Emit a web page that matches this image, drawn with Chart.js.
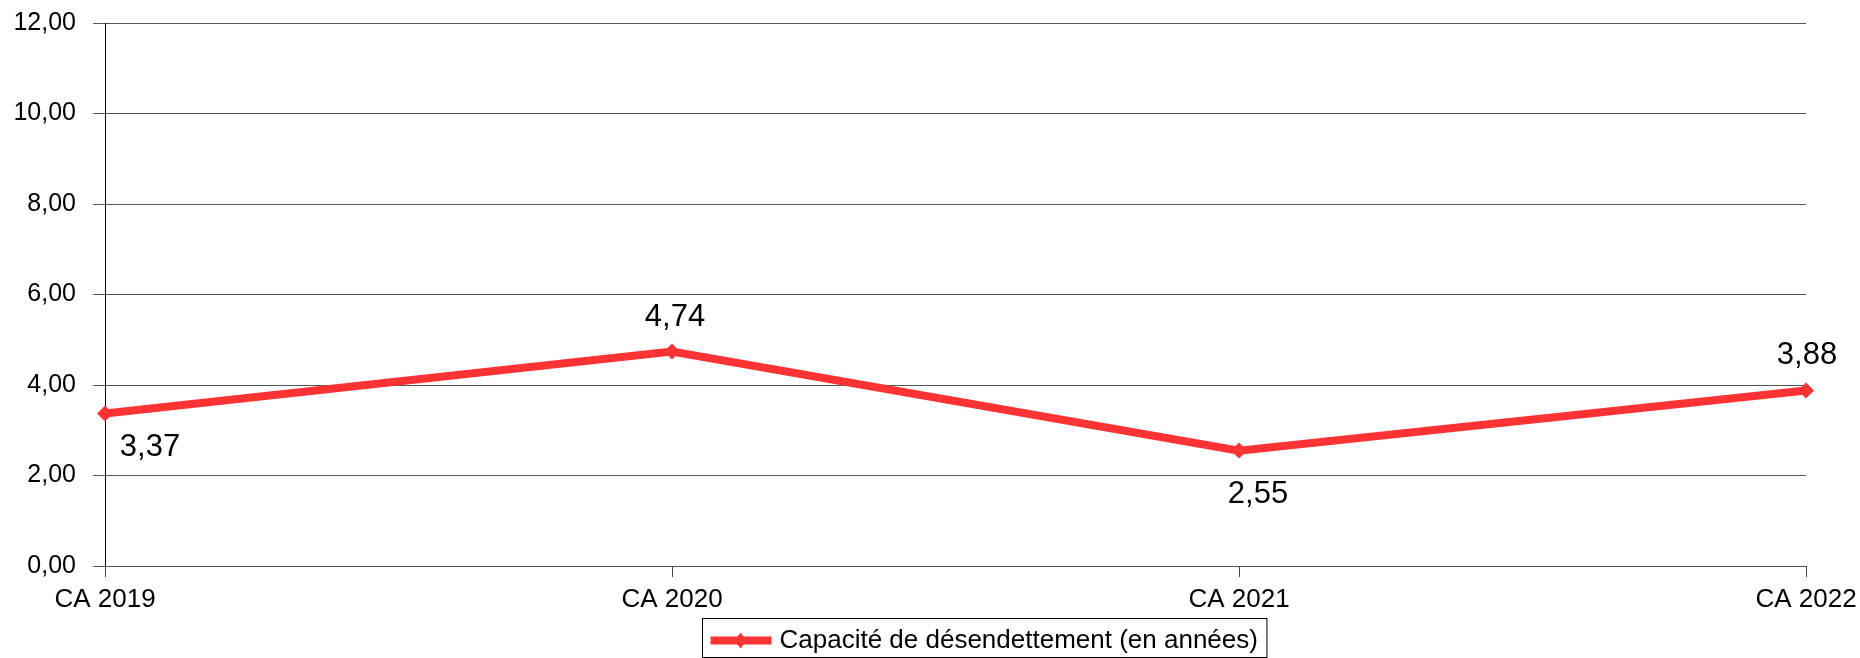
<!DOCTYPE html>
<html>
<head>
<meta charset="utf-8">
<script src="https://cdn.jsdelivr.net/npm/chart.js@4.4.0/dist/chart.umd.min.js"></script>
<style>
  html, body { margin: 0; padding: 0; background: #fff; }
  #wrap { width: 1860px; height: 658px; }
</style>
</head>
<body>
<div id="wrap"><canvas id="myChart" width="1860" height="658"></canvas></div>
<script>
// data
const categories = ['CA 2019', 'CA 2020', 'CA 2021', 'CA 2022'];
const capacite = [3.37, 4.74, 2.55, 3.88];
const seriesLabel = 'Capacité de désendettement (en années)';
const yMin = 0;
const yMax = 12;
const yStep = 2;

const red = '#ff3333';
const font = '"Liberation Sans", Arial, sans-serif';

function fr(v){
	return v.toFixed(2).replace('.', ',');
}

// value labels next to each point
const valueLabels = {
	id: 'valueLabels',
	afterDatasetsDraw(chart, args, opts){
		const ctx = chart.ctx;
		const meta = chart.getDatasetMeta(0);
		ctx.save();
		ctx.font = '31px ' + font;
		ctx.fillStyle = '#000';
		ctx.textAlign = 'center';
		ctx.textBaseline = 'middle';
		meta.data.forEach(function(pt, i){
			const off = opts.offsets[i];
			ctx.fillText(fr(capacite[i]), pt.x + off[0], pt.y + off[1]);
		});
		ctx.restore();
	}
};

// boxed legend under the axis
const boxLegend = {
	id: 'boxLegend',
	afterDraw(chart){
		const ctx = chart.ctx;
		ctx.save();
		ctx.font = '26px ' + font;
		const tw = ctx.measureText(seriesLabel).width;
		const w = 8 + 61 + 8 + tw + 9;
		const h = 39;
		const left = 702.5;
		const top = 618.5;
		ctx.strokeStyle = '#000';
		ctx.lineWidth = 1;
		ctx.strokeRect(left, top, w, h);
		const cy = top + 22;
		ctx.strokeStyle = red;
		ctx.lineWidth = 8;
		ctx.beginPath();
		ctx.moveTo(left + 8, cy);
		ctx.lineTo(left + 69, cy);
		ctx.stroke();
		ctx.fillStyle = red;
		const cx = left + 38;
		ctx.beginPath();
		ctx.moveTo(cx, cy - 8);
		ctx.lineTo(cx + 6, cy);
		ctx.lineTo(cx, cy + 8);
		ctx.lineTo(cx - 6, cy);
		ctx.closePath();
		ctx.fill();
		ctx.fillStyle = '#000';
		ctx.textBaseline = 'middle';
		ctx.fillText(seriesLabel, left + 77, cy);
		ctx.restore();
	}
};

const ctx = document.getElementById('myChart').getContext('2d');
const myChart = new Chart(ctx, {
	type: 'line',
	data: {
		labels: categories,
		datasets: [{
			label: seriesLabel,
			data: capacite,
			borderColor: red,
			backgroundColor: red,
			borderWidth: 8,
			tension: 0,
			pointStyle: 'rectRot',
			pointRadius: 8,
			pointBorderWidth: 0,
			pointBackgroundColor: red,
			fill: false
		}]
	},
	options: {
		responsive: false,
		animation: false,
		layout: {
			padding: { left: 0, right: 54, top: 23, bottom: 42 }
		},
		plugins: {
			legend: { display: false },
			tooltip: { enabled: false },
			valueLabels: {
				offsets: [[45, 34], [3, -34], [19, 44], [1, -35]]
			}
		},
		scales: {
			x: {
				offset: false,
				grid: {
					drawOnChartArea: false,
					drawTicks: true,
					tickLength: 11,
					color: '#444',
					lineWidth: 1
				},
				border: { display: false },
				ticks: {
					color: '#000',
					font: { family: font, size: 26 },
					padding: 7,
					maxRotation: 0,
					autoSkip: false
				},
				afterFit(scale){
					scale.height = 50;
					scale.paddingLeft = 0;
					scale.paddingRight = 0;
				}
			},
			y: {
				min: yMin,
				max: yMax,
				grid: {
					color: '#555',
					lineWidth: 1,
					drawTicks: true,
					tickLength: 12
				},
				border: { display: true, color: '#000', width: 1 },
				ticks: {
					stepSize: yStep,
					color: '#000',
					font: { family: font, size: 25 },
					padding: 17,
					callback: function(v){ return fr(v); }
				},
				afterFit(scale){
					scale.width = 105;
					scale.paddingTop = 0;
					scale.paddingBottom = 0;
				}
			}
		}
	},
	plugins: [valueLabels, boxLegend]
});
</script>
</body>
</html>
